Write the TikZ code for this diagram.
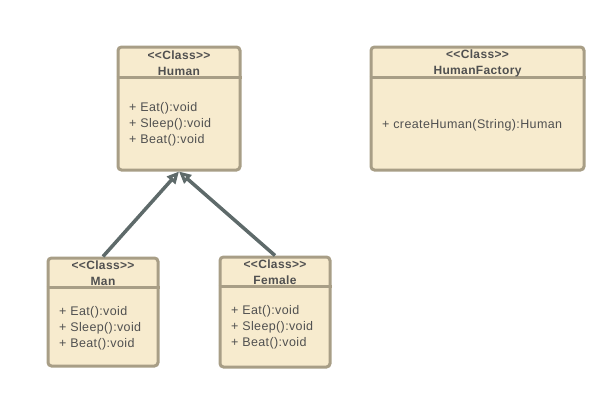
\documentclass[tikz,border=0pt]{standalone}
\usepackage{fontspec}
\newfontfamily\umlfont{Liberation Sans}[LetterSpace=3]
\usetikzlibrary{arrows.meta}
\definecolor{classfill}{HTML}{F7EBCE}
\definecolor{classline}{HTML}{A89E86}
\definecolor{linkline}{HTML}{5E6A6A}
\definecolor{umltext}{HTML}{505050}

\begin{document}
\begin{tikzpicture}[x=1pt, y=-1pt,
		classbox/.style={rectangle, rounded corners=3.5pt, fill=classfill, draw=classline, line width=3pt, inner sep=0pt},
		sepline/.style={draw=classline, line width=3pt},
		header/.style={umltext, font=\umlfont\fontsize{12}{16}\selectfont\bfseries, align=center, inner sep=0pt},
		members/.style={umltext, font=\umlfont\fontsize{12.5}{16}\selectfont, align=left, anchor=west, inner sep=0pt},
		extends/.style={-{Triangle[open, length=12pt, width=11pt]}, draw=linkline, line width=3.5pt}]
		
		\useasboundingbox (0,0) rectangle (616,400);
		
		% Human
		\node[classbox, minimum width=122pt, minimum height=123pt] (human) at (179,108.5) {};
		\draw[sepline] (human.west |- 0,77) -- (human.east |- 0,77);
		\node[header] (humanhead) at (179,63) {<<Class>>\\Human};
		\node[members] (humanops) at (129,124.5) {+ Eat():void\\+ Sleep():void\\+ Beat():void};
		
		% HumanFactory
		\node[classbox, minimum width=213pt, minimum height=123pt] (factory) at (477.5,108.5) {};
		\draw[sepline] (factory.west |- 0,77) -- (factory.east |- 0,77);
		\node[header] (factoryhead) at (477.5,63) {<<Class>>\\HumanFactory};
		\node[members] (factoryops) at (382,125.5) {+ createHuman(String):Human};
		
		% Man
		\node[classbox, minimum width=110pt, minimum height=108pt] (man) at (103,312) {};
		\draw[sepline] (man.west |- 0,287) -- (man.east |- 0,287);
		\node[header] (manhead) at (103,273.5) {<<Class>>\\Man};
		\node[members] (manops) at (59,328) {+ Eat():void\\+ Sleep():void\\+ Beat():void};
		
		% Female
		\node[classbox, minimum width=110pt, minimum height=110pt] (female) at (275,312) {};
		\draw[sepline] (female.west |- 0,286) -- (female.east |- 0,286);
		\node[header] (femalehead) at (275,272.5) {<<Class>>\\Female};
		\node[members] (femaleops) at (231,327.5) {+ Eat():void\\+ Sleep():void\\+ Beat():void};
		
		% Connect
		\draw[extends] (man.north) -- (human.south);
		\draw[extends] (female.north) -- (human.south);
		
	\end{tikzpicture}
\end{document}
